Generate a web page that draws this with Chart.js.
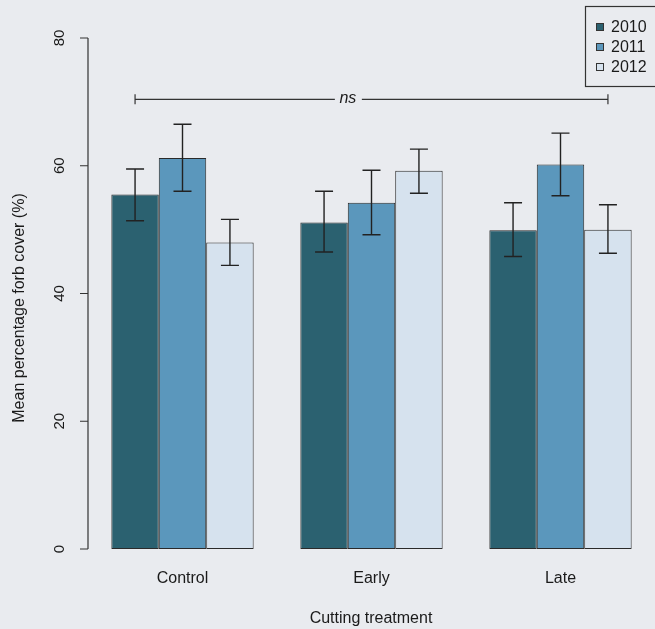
<!DOCTYPE html>
<html>
<head>
<meta charset="utf-8">
<script src="https://cdn.jsdelivr.net/npm/chart.js@4"></script>
<style>
  html, body { margin: 0; padding: 0; background: #e9ebef; }
  #wrap { width: 655px; height: 629px; }
</style>
</head>
<body>
<div id="wrap"><canvas id="forbChart" width="655" height="629"></canvas></div>
<script>
// values
const categories = ['Control', 'Early', 'Late'];
const years = ['2010', '2011', '2012'];
const cover2010 = [55.5, 51.1, 49.9];
const cover2011 = [61.2, 54.2, 60.2];
const cover2012 = [48.0, 59.2, 50.0];
const upper2010 = [59.5, 56.0, 54.2];
const lower2010 = [51.4, 46.5, 45.8];
const upper2011 = [66.5, 59.3, 65.1];
const lower2011 = [56.0, 49.2, 55.3];
const upper2012 = [51.6, 62.6, 53.9];
const lower2012 = [44.4, 55.7, 46.3];
const yTicks = [0, 20, 40, 60, 80];
const nsLevel = 70.4;

const colours = ['#2b6170', '#5b97bc', '#d6e2ee'];
const font = '"Liberation Sans", Arial, sans-serif';

// error bars, axis, labels, ns bracket and legend
const decorations = {
    id: 'decorations',
    afterDatasetsDraw(chart) {
        const ctx = chart.ctx;
        const y = chart.scales.y;
        const uppers = [upper2010, upper2011, upper2012];
        const lowers = [lower2010, lower2011, lower2012];

        ctx.save();
        ctx.strokeStyle = '#222';
        ctx.lineWidth = 1.4;
        chart.data.datasets.forEach(function (ds, d) {
            chart.getDatasetMeta(d).data.forEach(function (bar, i) {
                const x = bar.x;
                const top = y.getPixelForValue(uppers[d][i]);
                const bot = y.getPixelForValue(lowers[d][i]);
                ctx.beginPath();
                ctx.moveTo(x, top); ctx.lineTo(x, bot);
                ctx.moveTo(x - 9, top); ctx.lineTo(x + 9, top);
                ctx.moveTo(x - 9, bot); ctx.lineTo(x + 9, bot);
                ctx.stroke();
            });
        });

        // y axis
        const axisX = 88;
        ctx.strokeStyle = '#333';
        ctx.lineWidth = 1.2;
        ctx.beginPath();
        ctx.moveTo(axisX, y.getPixelForValue(yTicks[0]));
        ctx.lineTo(axisX, y.getPixelForValue(yTicks[yTicks.length - 1]));
        yTicks.forEach(function (t) {
            const py = y.getPixelForValue(t);
            ctx.moveTo(axisX, py);
            ctx.lineTo(axisX - 8, py);
        });
        ctx.stroke();

        ctx.fillStyle = '#1a1a1a';
        ctx.font = '15px ' + font;
        ctx.textAlign = 'center';
        ctx.textBaseline = 'middle';
        yTicks.forEach(function (t) {
            ctx.save();
            ctx.translate(60, y.getPixelForValue(t));
            ctx.rotate(-Math.PI / 2);
            ctx.fillText(String(t), 0, 0);
            ctx.restore();
        });
        ctx.font = '16px ' + font;
        ctx.save();
        ctx.translate(20, 308);
        ctx.rotate(-Math.PI / 2);
        ctx.fillText('Mean percentage forb cover (%)', 0, 0);
        ctx.restore();

        // category labels and x title
        const mid = chart.getDatasetMeta(1).data;
        categories.forEach(function (c, i) {
            ctx.fillText(c, mid[i].x, 579);
        });
        ctx.fillText('Cutting treatment', 371, 619);

        // ns bracket
        const x1 = chart.getDatasetMeta(0).data[0].x;
        const x2 = chart.getDatasetMeta(2).data[2].x;
        const ny = y.getPixelForValue(nsLevel);
        const nx = x1 + (x2 - x1) * 0.45;
        ctx.beginPath();
        ctx.moveTo(x1, ny); ctx.lineTo(nx - 13, ny);
        ctx.moveTo(nx + 14, ny); ctx.lineTo(x2, ny);
        ctx.moveTo(x1, ny - 5); ctx.lineTo(x1, ny + 5);
        ctx.moveTo(x2, ny - 5); ctx.lineTo(x2, ny + 5);
        ctx.stroke();
        ctx.font = 'italic 16px ' + font;
        ctx.fillText('ns', nx, ny - 1);

        // legend
        ctx.fillStyle = '#e9ebef';
        ctx.fillRect(585, 6, 80, 80);
        ctx.strokeRect(585.5, 6.5, 80, 80);
        ctx.font = '16px ' + font;
        ctx.textAlign = 'left';
        years.forEach(function (yr, i) {
            const ly = 27 + i * 20;
            ctx.fillStyle = colours[i];
            ctx.fillRect(596, ly - 4, 8, 8);
            ctx.strokeStyle = '#333';
            ctx.lineWidth = 1;
            ctx.strokeRect(596.5, ly - 3.5, 7, 7);
            ctx.fillStyle = '#1a1a1a';
            ctx.fillText(yr, 611, ly + 1);
        });
        ctx.restore();
    }
};

const seriesValues = [cover2010, cover2011, cover2012];

new Chart(document.getElementById('forbChart').getContext('2d'), {
    type: 'bar',
    data: {
        labels: categories,
        datasets: years.map(function (yr, i) {
            return {
                label: yr,
                data: seriesValues[i],
                backgroundColor: colours[i],
                borderColor: '#2a2a2a',
                borderWidth: 1,
                borderSkipped: false,
                barPercentage: 1,
                categoryPercentage: 0.753
            };
        })
    },
    options: {
        responsive: false,
        animation: false,
        events: [],
        layout: { padding: { left: 88, right: 0, top: 38, bottom: 80 } },
        plugins: { legend: { display: false }, tooltip: { enabled: false } },
        scales: {
            x: { display: false },
            y: { display: false, min: 0, max: 80 }
        }
    },
    plugins: [decorations]
});
</script>
</body>
</html>
